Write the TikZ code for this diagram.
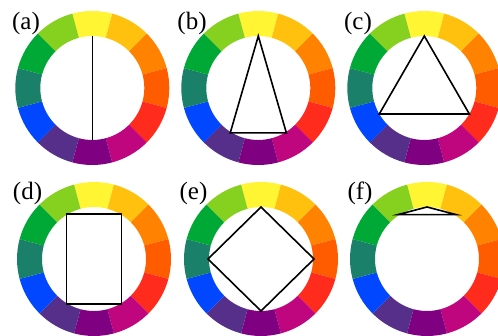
\documentclass[tikz,border=0pt]{standalone}
\usepackage{fontspec}
\setmainfont{Liberation Serif}
\usetikzlibrary{calc}
\definecolor{cY}{HTML}{FFF533}
\definecolor{cYO}{HTML}{FFC10E}
\definecolor{cO}{HTML}{FF8200}
\definecolor{cRO}{HTML}{FF5C00}
\definecolor{cR}{HTML}{FF2B1C}
\definecolor{cRV}{HTML}{BF067F}
\definecolor{cP}{HTML}{7F0080}
\definecolor{cV}{HTML}{552F8A}
\definecolor{cB}{HTML}{0047FF}
\definecolor{cT}{HTML}{1B806A}
\definecolor{cG}{HTML}{00A835}
\definecolor{cYG}{HTML}{86D01F}
\newcommand\colorwheel[1]{%
  \foreach \c/\a in {cY/90, cYO/60, cO/30, cRO/0, cR/-30, cRV/-60, cP/-90, cV/-120, cB/-150, cT/-180, cG/-210, cYG/-240} {
    \fill[\c] ($(#1)+(\a-15:77)$) arc[start angle=\a-15, end angle=\a+15, radius=77]
      -- ($(#1)+(\a+15:52)$) arc[start angle=\a+15, end angle=\a-15, radius=52] -- cycle;
  }%
}
\tikzset{
  lab/.style={inner sep=0pt, font=\fontsize{25}{30}\selectfont},
  shape line/.style={draw=black, line width=1.6pt, line join=miter}
}
\begin{document}
\begin{tikzpicture}[x=1pt,y=1pt]
\useasboundingbox (0,0) rectangle (498,335);
\fill[white] (0,0) rectangle (498,335);
% centres
\coordinate (ca) at (92.3,247);
\coordinate (cb) at (258.3,247);
\coordinate (cc) at (424.3,247);
\coordinate (cd) at (94,76);
\coordinate (ce) at (261,76);
\coordinate (cf) at (427,76);
\colorwheel{ca}
\colorwheel{cb}
\colorwheel{cc}
\colorwheel{cd}
\colorwheel{ce}
\colorwheel{cf}
% labels
\node[lab] (la) at (26,311.5) {(a)};
\node[lab] (lb) at (192,311.5) {(b)};
\node[lab] (lc) at (358,311.5) {(c)};
\node[lab] (ld) at (27.5,141.5) {(d)};
\node[lab] (le) at (193.5,141.5) {(e)};
\node[lab] (lf) at (360,141.5) {(f)};
% (a) complementary
\coordinate (a1) at ($(ca)+(90:52)$);
\coordinate (a2) at ($(ca)+(270:52)$);
\draw[shape line] (a1) -- (a2);
% (b) split complementary
\coordinate (b1) at ($(cb)+(90:52)$);
\coordinate (b2) at ($(cb)+(238:53)$);
\coordinate (b3) at ($(cb)+(302:53)$);
\draw[shape line] (b1) -- (b2) -- (b3) -- cycle;
% (c) triadic
\coordinate (c1) at ($(cc)+(90:52)$);
\coordinate (c2) at ($(cc)+(210:52)$);
\coordinate (c3) at ($(cc)+(330:52)$);
\draw[shape line] (c1) -- (c2) -- (c3) -- cycle;
% (d) rectangle
\coordinate (d1) at ($(cd)+(58.5:52.7)$);
\coordinate (d2) at ($(cd)+(121.5:52.7)$);
\coordinate (d3) at ($(cd)+(238.5:52.7)$);
\coordinate (d4) at ($(cd)+(301.5:52.7)$);
\draw[shape line] (d1) -- (d2) -- (d3) -- (d4) -- cycle;
% (e) square
\coordinate (e1) at ($(ce)+(0:53)$);
\coordinate (e2) at ($(ce)+(90:52)$);
\coordinate (e3) at ($(ce)+(180:53)$);
\coordinate (e4) at ($(ce)+(270:52)$);
\draw[shape line] (e1) -- (e2) -- (e3) -- (e4) -- cycle;
% (f) analogous
\coordinate (f1) at ($(cf)+(90:52)$);
\coordinate (f2) at ($(cf)+(123:53)$);
\coordinate (f3) at ($(cf)+(57:53)$);
\draw[shape line] (f1) -- (f2) -- (f3) -- cycle;
\end{tikzpicture}
\end{document}
